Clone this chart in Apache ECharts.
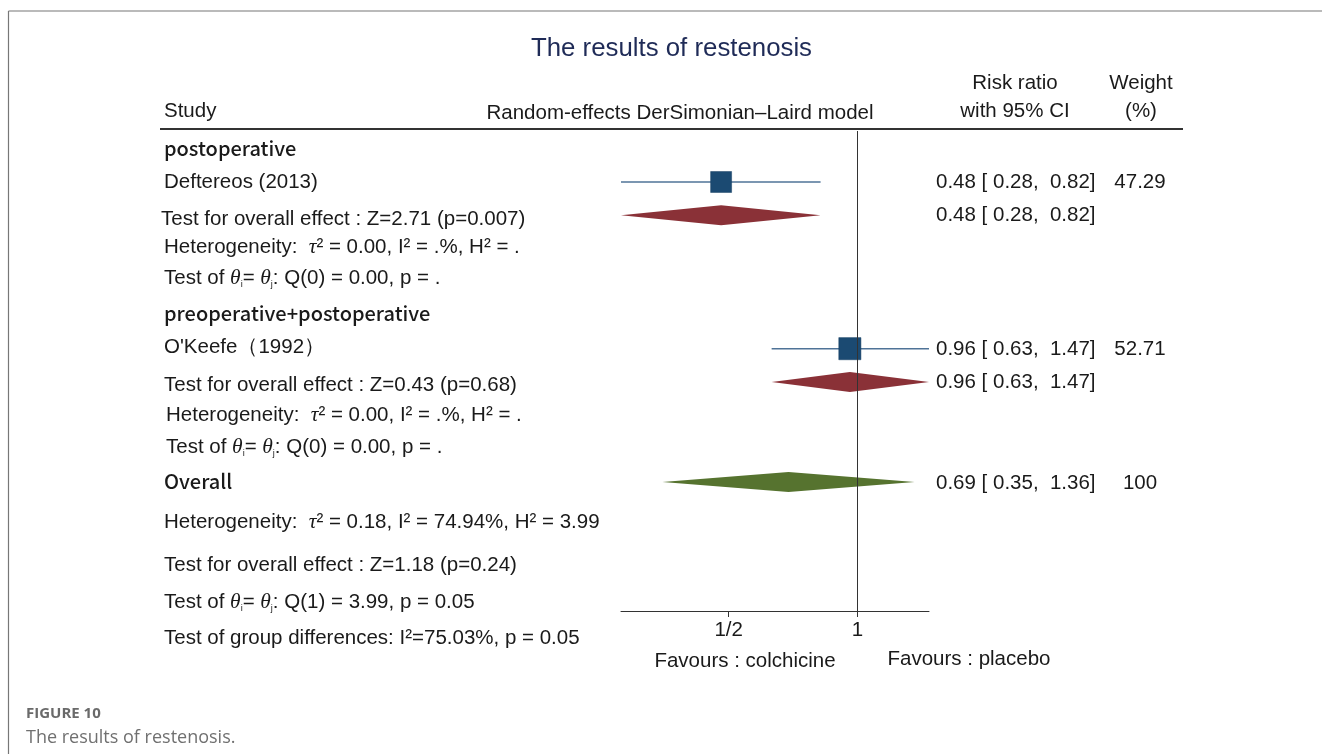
<!DOCTYPE html>
<html><head><meta charset="utf-8">
<script src="https://cdn.jsdelivr.net/npm/echarts@6/dist/echarts.min.js"></script>
<style>html,body{margin:0;padding:0;background:#fff}#c{width:1322px;height:754px}</style>
</head><body><div id="c"></div>
<script>
// ---------- data ----------
const studyNames = ['Deftereos (2013)', "O'Keefe（1992）"];
const studyRows = [1, 6];
const studyRR = [0.48, 0.96];
const studyLow = [0.28, 0.63];
const studyHigh = [0.82, 1.47];
const studyWeight = [47.29, 52.71];

const subgroupNames = ['postoperative', 'preoperative+postoperative'];
const subgroupRows = [2, 7];
const subgroupRR = [0.48, 0.96];
const subgroupLow = [0.28, 0.63];
const subgroupHigh = [0.82, 1.47];
const subgroupTests = ['Test for overall effect : Z=2.71 (p=0.007)', 'Test for overall effect : Z=0.43 (p=0.68)'];
const subgroupHet = ['0.00', '0.00'];
const subgroupHetI2 = ['.', '.'];
const subgroupHetH2 = ['.', '.'];
const subgroupQ = ['Q(0) = 0.00, p = .', 'Q(0) = 0.00, p = .'];

const overallRow = 10;
const overallRR = [0.69];
const overallLow = [0.35];
const overallHigh = [1.36];
const overallWeight = [100];
const overallTau2 = '0.18', overallI2 = '74.94', overallH2 = '3.99';
const overallTest = 'Test for overall effect : Z=1.18 (p=0.24)';
const overallQ = 'Q(1) = 3.99, p = 0.05';
const groupDiff = 'Test of group differences: I²=75.03%, p = 0.05';

const xTickValues = [0.5, 1];
const xTickLabels = ['1/2', '1'];
const xMin = 0.28, xMax = 1.47;

// ---------- layout / style ----------
const FONT = '"Liberation Sans", Arial, sans-serif';
const HFONT = '"Noto Sans CJK SC", "Noto Sans", sans-serif';
const CFONT = '"Open Sans", Lato, sans-serif';
const FS = 20.5;
const TXT = '#1a1a1a';
const fmt = v => v.toFixed(2);
const ciText = (r, l, h) => fmt(r) + ' [ ' + fmt(l) + ',  ' + fmt(h) + ']';

const chart = echarts.init(document.getElementById('c'), null, {renderer: 'canvas'});

const option = {
  backgroundColor: '#fff',
  animation: false,
  title: {
    text: 'The results of restenosis',
    left: 666.5, top: 31, textAlign: 'center',
    textStyle: {fontFamily: FONT, fontSize: 25.8, fontWeight: 'normal', color: '#1f2b57'}
  },
  grid: {left: 621, right: 393, top: 131, bottom: 143, containLabel: false},
  xAxis: {
    type: 'log', logBase: 2, min: xMin, max: xMax, position: 'bottom',
    axisLine: {show: true, onZero: false, lineStyle: {color: '#333', width: 1}},
    axisTick: {show: true, length: 6, lineStyle: {color: '#333'}, customValues: xTickValues},
    axisLabel: {
      show: true, margin: 9, fontFamily: FONT, fontSize: FS, color: TXT,
      customValues: xTickValues,
      formatter: v => { const i = xTickValues.findIndex(t => Math.abs(t - v) < 1e-6); return i >= 0 ? xTickLabels[i] : ''; }
    },
    splitLine: {show: false}
  },
  yAxis: {type: 'value', inverse: true, min: -0.5, max: 13.9, show: false},
  series: [
    {
      name: 'ci', type: 'custom', clip: false,
      data: studyRows.map((r, i) => [studyLow[i], studyHigh[i], r]),
      encode: {x: [0, 1], y: 2},
      renderItem: (params, api) => {
        const a = api.coord([api.value(0), api.value(2)]);
        const b = api.coord([api.value(1), api.value(2)]);
        return {type: 'line', shape: {x1: a[0], y1: a[1] + 1, x2: b[0], y2: b[1] + 1},
          style: {stroke: '#4f7397', lineWidth: 1.5}};
      },
      z: 2
    },
    {
      name: 'studies', type: 'scatter', symbol: 'rect',
      data: studyRows.map((r, i) => [studyRR[i], r, studyWeight[i]]),
      symbolSize: v => Math.sqrt(v[2]) * 3.05,
      symbolOffset: [0, 1],
      itemStyle: {color: '#1b4a72', borderColor: '#163f63', borderWidth: 0.5, opacity: 1},
      z: 3
    },
    {
      name: 'diamonds', type: 'custom', clip: false,
      data: subgroupRows.map((r, i) => [subgroupRR[i], subgroupLow[i], subgroupHigh[i], r, 0])
        .concat(overallRR.map((v, i) => [v, overallLow[i], overallHigh[i], overallRow, 1])),
      encode: {x: [0, 1, 2], y: 3},
      renderItem: (params, api) => {
        const row = api.value(3);
        const c = api.coord([api.value(0), row]);
        const l = api.coord([api.value(1), row]);
        const h = api.coord([api.value(2), row]);
        const hh = 10, cy = c[1] + 1;
        return {type: 'polygon',
          shape: {points: [[l[0], cy], [c[0], cy - hh], [h[0], cy], [c[0], cy + hh]]},
          style: {fill: api.value(4) ? '#56732f' : '#8a3137'}};
      },
      z: 3
    },
    {
      name: 'null', type: 'scatter', data: [], z: 10,
      markLine: {
        silent: true, symbol: 'none', label: {show: false},
        lineStyle: {color: '#333', width: 1, type: 'solid'},
        data: [{xAxis: 1}], z: 10
      }
    }
  ]
};
chart.setOption(option);

// ---------- texts ----------
const rowPx = r => chart.convertToPixel({yAxisIndex: 0}, r);
const g = [];
const base = {font: FS + 'px ' + FONT, fill: TXT, align: 'left', verticalAlign: 'middle'};
const txt = (text, x, y, opt = {}) => g.push({
  type: 'text', x, y, silent: true, z: 20,
  style: Object.assign({}, base, {text}, opt)
});
const rich = {
  n: {fontFamily: FONT, fontSize: FS, color: TXT},
  it: {fontFamily: '"Liberation Serif", serif', fontStyle: 'italic', fontSize: FS + 1, color: TXT},
  sb: {fontFamily: FONT, fontSize: 9, color: TXT, padding: [14, 0, 0, 0]}
};
const rtxt = (text, x, y) => txt(text, x, y, {rich});
const hetText = (t, i2, h2) => '{n|Heterogeneity:  }{it|τ}{n|² = ' + t + ', I² = ' + i2 + '%, H² = ' + h2 + '}';
const qText = q => '{n|Test of }{it|θ}{sb|i}{n|= }{it|θ}{sb|j}{n|: ' + q + '}';
const ln = (x1, y1, x2, y2, stroke, w) => g.push({type: 'line', silent: true, z: 20,
  shape: {x1, y1, x2, y2}, style: {stroke, lineWidth: w}});

// figure frame
ln(8.5, 11, 1322, 11, '#777', 1.2);
ln(8.5, 11, 8.5, 754, '#777', 1.2);
// header
txt('Study', 164, 111);
txt('Random-effects DerSimonian–Laird model', 680, 113, {align: 'center'});
txt('Risk ratio', 1015, 83, {align: 'center'});
txt('with 95% CI', 1015, 111, {align: 'center'});
txt('Weight', 1141, 83, {align: 'center'});
txt('(%)', 1141, 111, {align: 'center'});
ln(160, 129, 1183, 129, '#333', 2);

// subgroups
const leftX = [[164, 164, 161, 164, 164], [164, 164, 164, 166, 166]];
const leftY = [[148, 182, 219, 247, 278], [313, 347, 385, 415, 447]];
subgroupNames.forEach((name, i) => {
  txt(name, leftX[i][0], leftY[i][0], {font: '500 20px ' + HFONT});
  txt(studyNames[i], leftX[i][1], leftY[i][1]);
  txt(subgroupTests[i], leftX[i][2], leftY[i][2]);
  rtxt(hetText(subgroupHet[i], subgroupHetI2[i], subgroupHetH2[i]), leftX[i][3], leftY[i][3]);
  rtxt(qText(subgroupQ[i]), leftX[i][4], leftY[i][4]);
  const ys = rowPx(studyRows[i]) + 1.5;
  txt(ciText(studyRR[i], studyLow[i], studyHigh[i]), 936, ys);
  txt(studyWeight[i].toFixed(2), 1140, ys, {align: 'center'});
  txt(ciText(subgroupRR[i], subgroupLow[i], subgroupHigh[i]), 936, rowPx(subgroupRows[i]) + 1.5);
});
// overall
txt('Overall', 164, 481, {font: '500 20px ' + HFONT});
txt(ciText(overallRR[0], overallLow[0], overallHigh[0]), 936, rowPx(overallRow) + 2);
txt(String(overallWeight[0]), 1140, rowPx(overallRow) + 2, {align: 'center'});
rtxt(hetText(overallTau2, overallI2, overallH2), 164, 522);
txt(overallTest, 164, 565);
rtxt(qText(overallQ), 164, 602);
txt(groupDiff, 164, 638);
// favours
txt('Favours : colchicine', 745, 661, {align: 'center'});
txt('Favours : placebo', 969, 659, {align: 'center'});
// caption
txt('FIGURE 10', 26, 714, {font: 'bold 15px ' + CFONT, fill: '#6a6a6a'});
txt('The results of restenosis.', 26, 738, {font: '18px ' + CFONT, fill: '#707070'});

chart.setOption({graphic: g});
</script>
</body></html>
